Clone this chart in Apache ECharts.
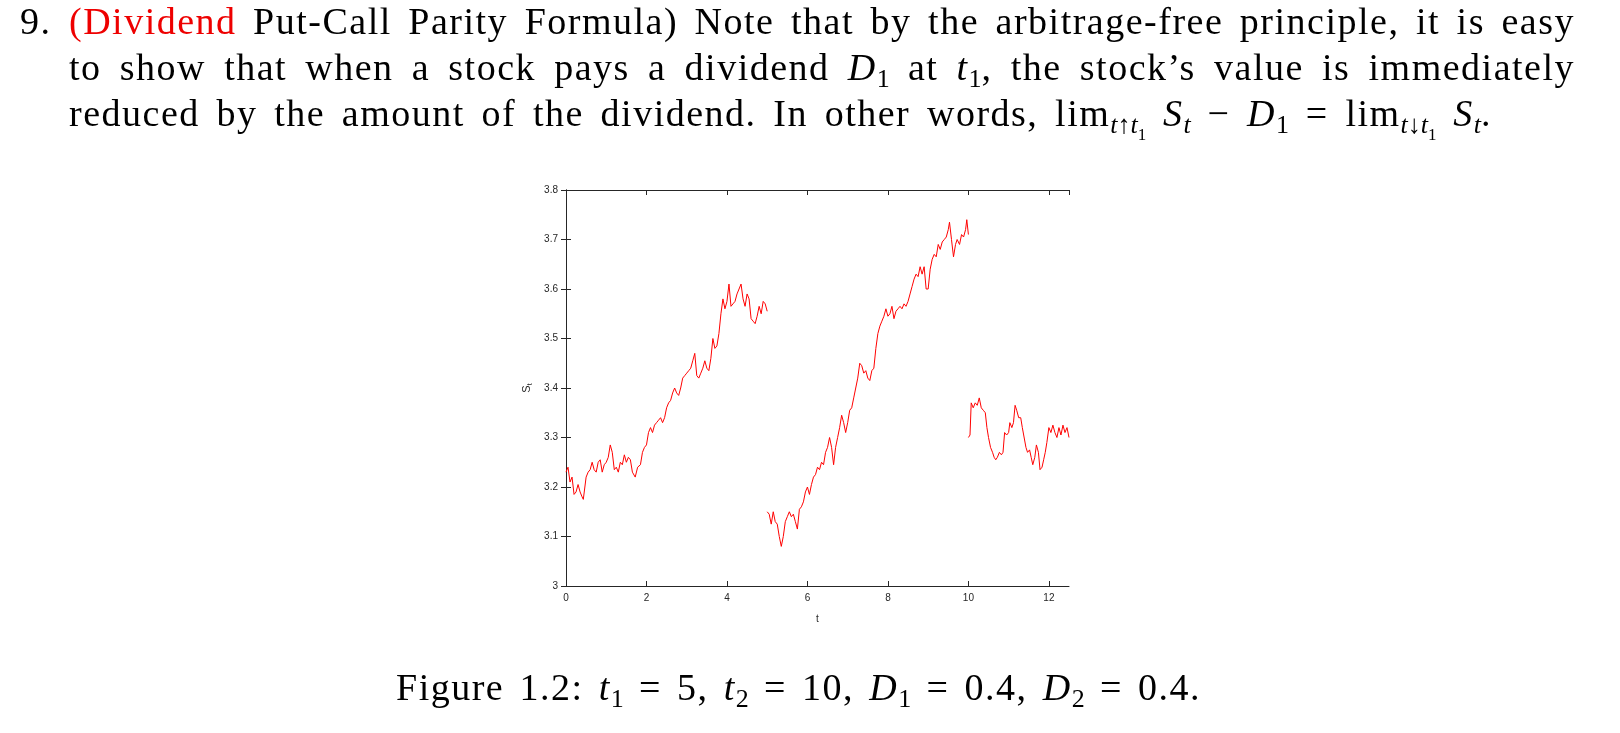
<!DOCTYPE html>
<html><head><meta charset="utf-8">
<script src="https://cdn.jsdelivr.net/npm/echarts@6/dist/echarts.min.js"></script>
<style>
html,body{margin:0;padding:0;background:#fff;width:1620px;height:733px;overflow:hidden;}
.t{position:absolute;font-family:"Liberation Serif","DejaVu Serif",serif;font-size:38px;color:#000;white-space:nowrap;line-height:46px;letter-spacing:1.5px;}
.j{text-align:justify;text-align-last:justify;white-space:normal;}
sub{font-size:26px;vertical-align:-7px;line-height:0;letter-spacing:0;}
.red{color:#e00;}
#chart{position:absolute;left:0;top:0;width:1620px;height:733px;}
</style></head><body>
<div id="chart"></div>
<div class="t" style="left:20px;top:-2px;">9.</div>
<div class="t j" style="left:69px;top:-2px;width:1506px;"><span class="red">(Dividend</span> Put-Call Parity Formula) Note that by the arbitrage-free principle, it is easy</div>
<div class="t j" style="left:69px;top:44px;width:1506px;">to show that when a stock pays a dividend <i>D</i><sub>1</sub> at <i>t</i><sub>1</sub>, the stock’s value is immediately</div>
<div class="t j" style="left:69px;top:90px;width:1423px;">reduced by the amount of the dividend. In other words, lim<sub><i>t</i>↑<i>t</i><sub style="font-size:17px">1</sub></sub> <i>S<sub>t</sub></i> − <i>D</i><sub>1</sub> = lim<sub><i>t</i>↓<i>t</i><sub style="font-size:17px">1</sub></sub> <i>S<sub>t</sub></i>.</div>
<div class="t j" style="left:396px;top:664px;width:805px;">Figure 1.2: <i>t</i><sub>1</sub> = 5, <i>t</i><sub>2</sub> = 10, <i>D</i><sub>1</sub> = 0.4, <i>D</i><sub>2</sub> = 0.4.</div>
<script>
const seg1T=[0,0.05,0.1,0.15,0.2,0.25,0.3,0.35,0.4,0.43,0.5,0.55,0.6,0.65,0.7,0.75,0.8,0.85,0.9,0.95,1.0,1.05,1.1,1.15,1.2,1.25,1.3,1.35,1.4,1.45,1.5,1.55,1.6,1.65,1.72,1.78,1.85,1.9,1.95,2.0,2.05,2.1,2.15,2.2,2.25,2.3,2.35,2.4,2.45,2.5,2.55,2.6,2.65,2.7,2.75,2.8,2.85,2.9,2.95,3.0,3.05,3.1,3.15,3.2,3.25,3.3,3.35,3.4,3.45,3.5,3.55,3.6,3.65,3.7,3.75,3.8,3.85,3.9,3.95,4.0,4.05,4.1,4.15,4.2,4.25,4.3,4.35,4.4,4.45,4.5,4.55,4.6,4.65,4.7,4.75,4.8,4.85,4.9,4.95,5.0];
const seg1S=[3.23,3.24,3.21,3.22,3.185,3.19,3.205,3.19,3.18,3.175,3.22,3.23,3.235,3.25,3.235,3.23,3.25,3.255,3.23,3.245,3.25,3.26,3.285,3.27,3.235,3.24,3.23,3.25,3.245,3.265,3.25,3.26,3.255,3.23,3.22,3.24,3.245,3.27,3.28,3.285,3.31,3.32,3.31,3.325,3.33,3.335,3.34,3.33,3.34,3.36,3.37,3.375,3.39,3.40,3.39,3.385,3.40,3.42,3.425,3.43,3.435,3.44,3.455,3.47,3.425,3.42,3.43,3.44,3.455,3.44,3.435,3.46,3.50,3.48,3.485,3.51,3.55,3.58,3.56,3.575,3.61,3.565,3.57,3.575,3.59,3.60,3.61,3.58,3.565,3.59,3.58,3.54,3.535,3.53,3.545,3.565,3.55,3.575,3.57,3.555];
const seg2T=[5.0,5.05,5.1,5.15,5.2,5.25,5.3,5.35,5.4,5.45,5.5,5.55,5.6,5.65,5.7,5.75,5.8,5.85,5.9,5.95,6.0,6.05,6.1,6.15,6.2,6.25,6.3,6.35,6.4,6.45,6.5,6.55,6.6,6.65,6.7,6.75,6.8,6.85,6.9,6.95,7.0,7.05,7.1,7.15,7.2,7.25,7.3,7.35,7.4,7.45,7.5,7.55,7.6,7.65,7.7,7.75,7.8,7.85,7.9,7.95,8.0,8.05,8.1,8.15,8.2,8.25,8.3,8.35,8.4,8.45,8.5,8.55,8.6,8.65,8.7,8.75,8.8,8.85,8.9,8.95,9.0,9.05,9.1,9.15,9.2,9.25,9.3,9.35,9.4,9.45,9.5,9.53,9.58,9.63,9.68,9.72,9.78,9.83,9.88,9.93,9.96,10.0];
const seg2S=[3.15,3.145,3.125,3.15,3.13,3.125,3.10,3.08,3.10,3.13,3.14,3.15,3.14,3.145,3.13,3.115,3.155,3.16,3.17,3.19,3.20,3.185,3.205,3.22,3.225,3.24,3.235,3.25,3.245,3.27,3.28,3.30,3.28,3.245,3.28,3.30,3.32,3.345,3.33,3.31,3.33,3.355,3.36,3.38,3.40,3.42,3.45,3.445,3.43,3.435,3.42,3.415,3.435,3.44,3.48,3.51,3.525,3.535,3.545,3.56,3.545,3.55,3.565,3.54,3.555,3.56,3.565,3.56,3.57,3.565,3.575,3.59,3.605,3.62,3.63,3.625,3.645,3.63,3.645,3.60,3.60,3.64,3.66,3.67,3.665,3.69,3.68,3.695,3.70,3.705,3.72,3.735,3.70,3.665,3.69,3.70,3.69,3.71,3.705,3.72,3.74,3.71];
const seg3T=[10.0,10.04,10.07,10.12,10.17,10.22,10.27,10.32,10.37,10.42,10.46,10.5,10.55,10.6,10.64,10.68,10.72,10.77,10.82,10.86,10.9,10.95,11.0,11.03,11.08,11.12,11.16,11.2,11.25,11.3,11.34,11.38,11.43,11.47,11.52,11.56,11.6,11.65,11.69,11.74,11.78,11.83,11.87,11.91,11.95,12.0,12.05,12.1,12.15,12.2,12.25,12.3,12.35,12.4,12.45,12.5];
const seg3S=[3.30,3.305,3.37,3.36,3.37,3.365,3.38,3.36,3.355,3.35,3.32,3.30,3.28,3.27,3.26,3.255,3.26,3.27,3.265,3.27,3.31,3.305,3.31,3.33,3.32,3.33,3.365,3.355,3.34,3.34,3.32,3.32,3.28,3.27,3.275,3.26,3.245,3.26,3.285,3.27,3.235,3.24,3.255,3.27,3.29,3.32,3.31,3.325,3.31,3.30,3.32,3.305,3.325,3.31,3.32,3.30];
const yTicks=[3,3.1,3.2,3.3,3.4,3.5,3.6,3.7,3.8];
const xTicks=[0,2,4,6,8,10,12];

const zip=(a,b)=>a.map((t,i)=>[t,b[i]]);
const lab={fontFamily:'Liberation Sans, Arial, sans-serif',fontSize:10,color:'#262626'};
const axLine={lineStyle:{color:'#262626',width:1}};
const tick={inside:true,length:5,lineStyle:{color:'#262626'}};
const chart=echarts.init(document.getElementById('chart'));
const mkSeries=(d)=>({type:'line',data:d,showSymbol:false,symbol:'none',lineStyle:{color:'#ff0000',width:1},color:'#ff0000',xAxisIndex:0,yAxisIndex:0,animation:false});
chart.setOption({
 animation:false,
 grid:{left:566,right:551,top:190,bottom:147,containLabel:false},
 xAxis:[
  {type:'value',min:0,max:12.5,interval:2,position:'bottom',axisLine:axLine,axisTick:tick,splitLine:{show:false},
   axisLabel:{...lab,margin:7,showMaxLabel:false,formatter:v=>xTicks.includes(v)?String(v):''},
   name:'t',nameLocation:'middle',nameGap:28,nameTextStyle:lab},
  {type:'value',min:0,max:12.5,interval:2,position:'top',axisLine:axLine,axisTick:tick,axisLabel:{show:false},splitLine:{show:false}}
 ],
 yAxis:[
  {type:'value',min:3,max:3.8,interval:0.1,position:'left',axisLine:axLine,axisTick:tick,splitLine:{show:false},
   axisLabel:{...lab,margin:8,formatter:v=>{const r=Math.round(v*10)/10;return yTicks.includes(r)?(r===3?'3':r.toFixed(1)):'';}},
   name:'{s|S}{b|t}',nameLocation:'middle',nameGap:32,nameRotate:90,nameTextStyle:{...lab,rich:{s:{fontSize:11,color:'#262626'},b:{fontSize:7,color:'#262626',padding:[7,0,0,0]}}}},
  {type:'value',min:3,max:3.8,interval:0.1,position:'right',axisLine:axLine,axisTick:tick,axisLabel:{show:false},splitLine:{show:false}}
 ],
 series:[mkSeries(zip(seg1T,seg1S)),mkSeries(zip(seg2T,seg2S)),mkSeries(zip(seg3T,seg3S))]
});
</script>
</body></html>
